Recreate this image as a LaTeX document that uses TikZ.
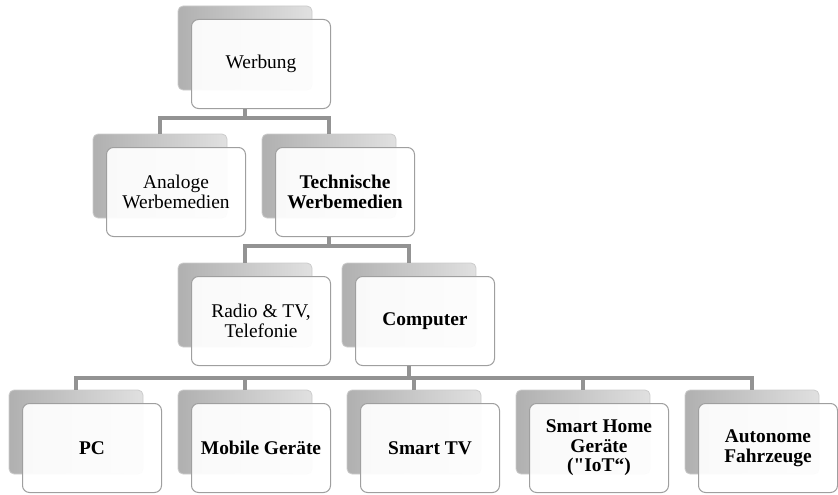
\documentclass[tikz,border=0pt]{standalone}
\usepackage{fontspec}
\setmainfont{Liberation Serif}
\newfontfamily\qfont{Liberation Serif}
\usetikzlibrary{calc}

\tikzset{
  back/.style={rounded corners=5pt, minimum width=134pt, minimum height=84pt,
    left color=gray!62, right color=gray!24, draw=gray!40, line width=0.8pt},
  front/.style={rounded corners=7pt, minimum width=139pt, minimum height=89pt,
    draw=gray!75, line width=1pt, fill=white, fill opacity=0.93, text opacity=1,
    align=center, inner sep=0pt, font=\fontsize{19.4}{19.5}\selectfont},
  conn/.style={draw=gray!85, line width=3.2pt}
}

\begin{document}
\begin{tikzpicture}[x=1pt, y=-1pt]

				\useasboundingbox (0,0) rectangle (838,495);

				% Level 1
				\node[back] (wbB) at (245,48) {};
				\node[front] (wb) at (261,64) {Werbung};

				% Level 2
				\node[back] (anB) at (160,176) {};
				\node[front] (an) at (176,192) {Analoge\\Werbemedien};
				\node[back] (tcB) at (329,176) {};
				\node[front] (tc) at (345,192) {\textbf{Technische}\\\textbf{Werbemedien}};

				% Level 3
				\node[back] (rtB) at (245,305) {};
				\node[front] (rt) at (261,321) {Radio \& TV,\\Telefonie};
				\node[back] (coB) at (409,305) {};
				\node[front] (co) at (425,321) {\textbf{Computer}};

				% Level 4
				\node[back] (pcB) at (76,432) {};
				\node[front] (pc) at (92,448) {\textbf{PC}};
				\node[back] (mgB) at (245,432) {};
				\node[front] (mg) at (261,448) {\textbf{Mobile Geräte}};
				\node[back] (stB) at (414,432) {};
				\node[front] (st) at (430,448) {\textbf{Smart TV}};
				\node[back] (shB) at (583,432) {};
				\node[front] (sh) at (599,448) {\textbf{Smart Home}\\\textbf{Geräte}\\\textbf{({\qfont\bfseries "}IoT“)}};
				\node[back] (afB) at (752,432) {};
				\node[front] (af) at (768,448) {\textbf{Autonome}\\\textbf{Fahrzeuge}};

				% Junction heights
				\coordinate (j1) at (0,118);
				\coordinate (j2) at (0,246);
				\coordinate (j3) at (0,378);

				% Connectors
				\draw[conn] (wbB |- wb.south) -- (wbB |- j1);
				\draw[conn] (anB.north) |- (tcB |- j1) -- (tcB.north);

				\draw[conn] (tcB |- tc.south) -- (tcB |- j2);
				\draw[conn] (rtB.north) |- (coB |- j2) -- (coB.north);

				\draw[conn] (coB |- co.south) -- (coB |- j3);
				\draw[conn] (pcB.north) |- (afB |- j3) -- (afB.north);
				\draw[conn] (mgB |- j3) -- (mgB.north);
				\draw[conn] (stB |- j3) -- (stB.north);
				\draw[conn] (shB |- j3) -- (shB.north);

			\end{tikzpicture}
\end{document}
